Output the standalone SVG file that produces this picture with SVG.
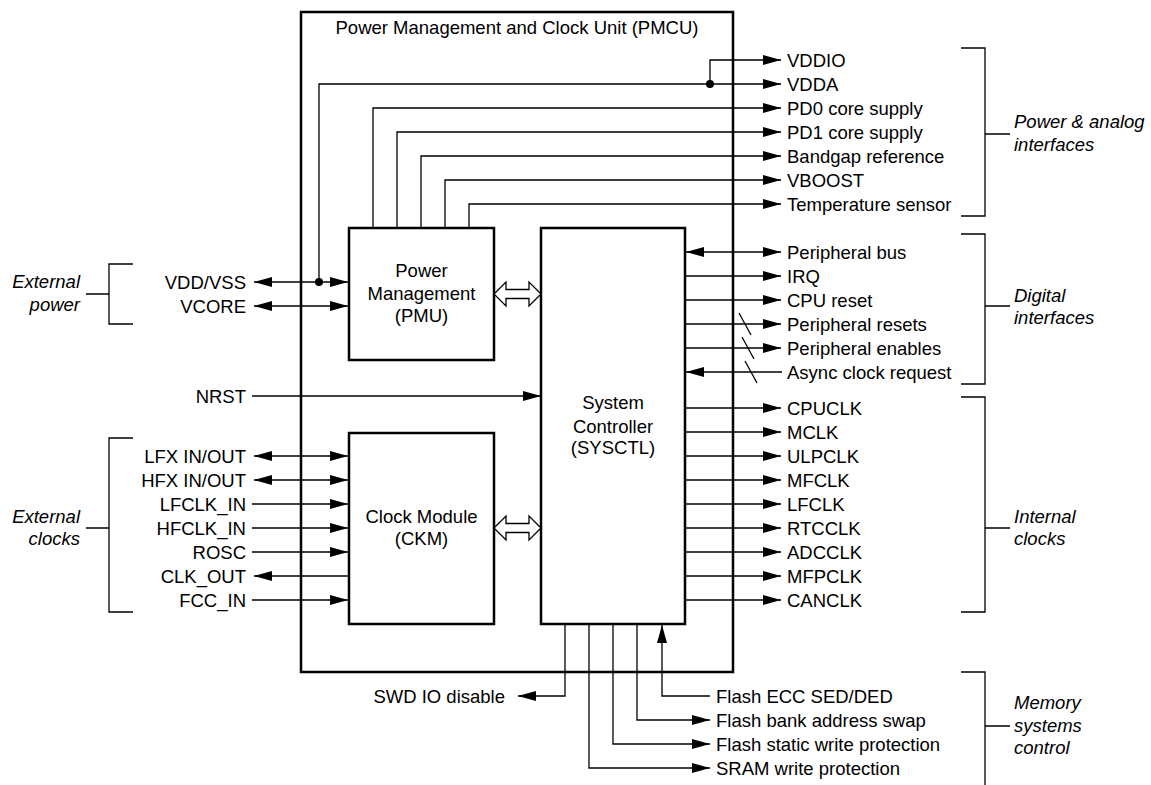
<svg xmlns="http://www.w3.org/2000/svg" width="1151" height="785" viewBox="0 0 1151 785">
<style>
text{font-family:"Liberation Sans",Arial,sans-serif;font-size:18.5px;fill:#000}
.it{font-style:italic}
.e{text-anchor:end}
.m{text-anchor:middle}
.box{fill:#fff;stroke:#000;stroke-width:2.5}
.w{fill:none;stroke:#000;stroke-width:1.3}
.a{marker-end:url(#ah)}
.b{marker-start:url(#ah);marker-end:url(#ah)}
.hol{fill:#fff;stroke:#000;stroke-width:1.3}
</style>
<defs>
<marker id="ah" markerWidth="18" markerHeight="10" refX="18" refY="5" orient="auto-start-reverse" markerUnits="userSpaceOnUse"><path d="M0,0 L18,5 L0,10 z" fill="#000"/></marker>
</defs>
<rect width="1151" height="785" fill="#fff"/>

<g id="pmcu">
<rect x="301" y="12" width="432" height="660" fill="none" stroke="#000" stroke-width="2.5"/>
<text x="517" y="34" class="m">Power Management and Clock Unit (PMCU)</text>
</g>

<g id="pmu">
<rect class="box" x="349" y="228" width="145" height="132"/>
<text x="421.5" y="277" class="m">Power</text>
<text x="421.5" y="300" class="m">Management</text>
<text x="421.5" y="322" class="m">(PMU)</text>
</g>

<g id="ckm">
<rect class="box" x="349" y="433" width="145" height="191"/>
<text x="421.5" y="522.5" class="m">Clock Module</text>
<text x="421.5" y="544.5" class="m">(CKM)</text>
</g>

<g id="sysctl">
<rect class="box" x="541" y="228" width="144" height="396"/>
<text x="613" y="409" class="m">System</text>
<text x="613" y="432.5" class="m">Controller</text>
<text x="613" y="454" class="m">(SYSCTL)</text>
</g>

<g id="connectors">
<polygon class="hol" points="494,294 506,282 506,289.5 529,289.5 529,282 541,294 529,306 529,298.5 506,298.5 506,306"/>
<polygon class="hol" points="494,528 506,516 506,523.5 529,523.5 529,516 541,528 529,540 529,532.5 506,532.5 506,540"/>
<path class="w a" d="M710,84 V60 H781"/>
<path class="w a" d="M319,282 V84 H781"/>
<path class="w a" d="M373,228 V108 H781"/>
<path class="w a" d="M397,228 V132 H781"/>
<path class="w a" d="M421,228 V156 H781"/>
<path class="w a" d="M445,228 V180 H781"/>
<path class="w a" d="M469,228 V204 H781"/>
<circle cx="710" cy="84" r="4" fill="#000"/>
<circle cx="319" cy="282" r="4" fill="#000"/>
<path class="w b" d="M254,282 H348"/>
<path class="w b" d="M254,306 H348"/>
<path class="w a" d="M252,396 H541"/>
<path class="w b" d="M254,456 H348"/>
<path class="w b" d="M254,480 H348"/>
<path class="w a" d="M252,504 H348"/>
<path class="w a" d="M252,528 H348"/>
<path class="w a" d="M252,552 H348"/>
<path class="w a" d="M349,576 H254"/>
<path class="w a" d="M252,600 H348"/>
<path class="w b" d="M686,252 H781"/>
<path class="w a" d="M685,276 H781"/>
<path class="w a" d="M685,300 H781"/>
<path class="w a" d="M685,324 H781"/>
<path class="w a" d="M685,348 H781"/>
<path class="w a" d="M782,372 H686"/>
<path class="w" d="M739,313 L751,335 M742,337 L754,359 M745,361 L757,383"/>
<path class="w a" d="M685,408 H781"/>
<path class="w a" d="M685,432 H781"/>
<path class="w a" d="M685,456 H781"/>
<path class="w a" d="M685,480 H781"/>
<path class="w a" d="M685,504 H781"/>
<path class="w a" d="M685,528 H781"/>
<path class="w a" d="M685,552 H781"/>
<path class="w a" d="M685,576 H781"/>
<path class="w a" d="M685,600 H781"/>
<path class="w a" d="M565,624 V696 H518"/>
<path class="w a" d="M710,696 H662 V625"/>
<path class="w a" d="M637,624 V720 H710"/>
<path class="w a" d="M613,624 V744 H710"/>
<path class="w a" d="M589,624 V768 H710"/>
<path class="w" d="M133,264 H109 V324 H133 M86,294 H109"/>
<path class="w" d="M133,438 H109 V612 H133 M86,528 H109"/>
<path class="w" d="M961,48 H985 V216 H961 M985,134 H1010"/>
<path class="w" d="M961,234 H985 V384 H961 M985,306 H1010"/>
<path class="w" d="M961,397 H985 V612 H961 M985,528 H1010"/>
<path class="w" d="M961,672 H985 V785 M985,726 H1010"/>
</g>

<g id="labels">
<text x="787" y="66.5">VDDIO</text>
<text x="787" y="90.5">VDDA</text>
<text x="787" y="114.5">PD0 core supply</text>
<text x="787" y="138.5">PD1 core supply</text>
<text x="787" y="162.5">Bandgap reference</text>
<text x="787" y="186.5">VBOOST</text>
<text x="787" y="210.5">Temperature sensor</text>
<text x="787" y="258.5">Peripheral bus</text>
<text x="787" y="282.5">IRQ</text>
<text x="787" y="306.5">CPU reset</text>
<text x="787" y="330.5">Peripheral resets</text>
<text x="787" y="354.5">Peripheral enables</text>
<text x="787" y="378.5">Async clock request</text>
<text x="787" y="414.5">CPUCLK</text>
<text x="787" y="438.5">MCLK</text>
<text x="787" y="462.5">ULPCLK</text>
<text x="787" y="486.5">MFCLK</text>
<text x="787" y="510.5">LFCLK</text>
<text x="787" y="534.5">RTCCLK</text>
<text x="787" y="558.5">ADCCLK</text>
<text x="787" y="582.5">MFPCLK</text>
<text x="787" y="606.5">CANCLK</text>
<text x="246" y="288.5" class="e">VDD/VSS</text>
<text x="246" y="312.5" class="e">VCORE</text>
<text x="246" y="402.5" class="e">NRST</text>
<text x="246" y="462.5" class="e">LFX IN/OUT</text>
<text x="246" y="486.5" class="e">HFX IN/OUT</text>
<text x="246" y="510.5" class="e">LFCLK_IN</text>
<text x="246" y="534.5" class="e">HFCLK_IN</text>
<text x="246" y="558.5" class="e">ROSC</text>
<text x="246" y="582.5" class="e">CLK_OUT</text>
<text x="246" y="606.5" class="e">FCC_IN</text>
<text x="505" y="702.5" class="e">SWD IO disable</text>
<text x="716" y="702.5">Flash ECC SED/DED</text>
<text x="716" y="726.5">Flash bank address swap</text>
<text x="716" y="750.5">Flash static write protection</text>
<text x="716" y="774.5">SRAM write protection</text>
<text x="80" y="288" class="it e">External</text>
<text x="80" y="310.5" class="it e">power</text>
<text x="80" y="522.5" class="it e">External</text>
<text x="80" y="545" class="it e">clocks</text>
<text x="1014" y="128" class="it">Power &amp; analog</text>
<text x="1014" y="150.5" class="it">interfaces</text>
<text x="1014" y="301.5" class="it">Digital</text>
<text x="1014" y="324" class="it">interfaces</text>
<text x="1014" y="522.5" class="it">Internal</text>
<text x="1014" y="545" class="it">clocks</text>
<text x="1014" y="709" class="it">Memory</text>
<text x="1014" y="731.5" class="it">systems</text>
<text x="1014" y="754" class="it">control</text>
</g>
</svg>
